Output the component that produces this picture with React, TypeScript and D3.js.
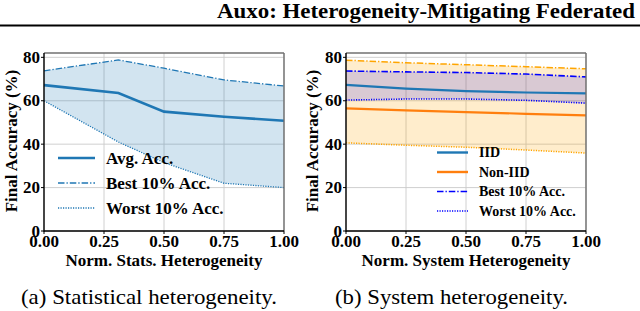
import React from "react";
import * as d3 from "d3";

// left panel: statistical heterogeneity
const statX = [0, 0.31, 0.5, 0.75, 1.0];
const statAvg = [67.2, 63.6, 55.0, 52.6, 50.8];
const statBest = [73.8, 78.8, 75.0, 69.6, 66.8];
const statWorst = [60.0, 41.0, 31.5, 22.0, 20.0];

// right panel: system heterogeneity
const sysX = [0, 0.25, 0.5, 0.75, 1.0];
const iidAvg = [67.3, 65.6, 64.4, 63.8, 63.4];
const iidBest = [73.7, 73.3, 73.0, 72.3, 71.0];
const iidWorst = [60.3, 60.8, 60.8, 60.2, 58.9];
const nonIidAvg = [56.5, 55.6, 54.8, 54.0, 53.3];
const nonIidBest = [78.7, 77.5, 76.6, 75.7, 74.7];
const nonIidWorst = [40.6, 39.5, 38.6, 37.3, 35.9];

const xTicks = [0, 0.25, 0.5, 0.75, 1.0];
const yTicks = [0, 20, 40, 60, 80];

const SERIF = "Liberation Serif";
const TAB_BLUE = "#1f77b4";
const TAB_ORANGE = "#ff7f0e";
const DASHDOT = "6.5,2,1.3,2";
const DOTTED = "1.2,1.3";

type Band = { lo: number[]; hi: number[]; fill: string; opacity: number };
type Series = { y: number[]; color: string; width: number; dash?: string };
type LegendItem = { label: string; color: string; width: number; dash?: string };

const bold = (size: number) => ({ fontFamily: SERIF, fontWeight: 700, fontSize: size });

const Panel = (props: {
  left: number;
  right: number;
  xs: number[];
  bands: Band[];
  series: Series[];
  legend: LegendItem[];
  legendX: number;
  legendY: number;
  legendStep: number;
  legendFont: number;
  legendLen: number;
  xLabel: string;
  yLabelX: number;
  caption: string;
  captionX: number;
  captionW: number;
}) => {
  const top = 53;
  const bottom = 231;
  const x = d3.scaleLinear().domain([0, 1]).range([props.left, props.right]);
  const y = d3.scaleLinear().domain([0, 82]).range([bottom, top]);
  const line = d3
    .line<number>()
    .x((_, i) => x(props.xs[i]))
    .y((d) => y(d));
  const area = (lo: number[], hi: number[]) =>
    d3
      .area<number>()
      .x((_, i) => x(props.xs[i]))
      .y0((_, i) => y(lo[i]))
      .y1((d) => y(d))(hi);

  return (
    <g>
      {/* grid */}
      {xTicks.map((t) => (
        <line key={"gx" + t} x1={x(t)} x2={x(t)} y1={top} y2={bottom} stroke="#cbcbcb" strokeWidth={0.9} />
      ))}
      {yTicks.map((t) => (
        <line key={"gy" + t} x1={props.left} x2={props.right} y1={y(t)} y2={y(t)} stroke="#cbcbcb" strokeWidth={0.9} />
      ))}
      {props.bands.map((b, i) => (
        <path key={"b" + i} d={area(b.lo, b.hi) || ""} fill={b.fill} fillOpacity={b.opacity} />
      ))}
      {props.series.map((s, i) => (
        <path
          key={"s" + i}
          d={line(s.y) || ""}
          fill="none"
          stroke={s.color}
          strokeWidth={s.width}
          strokeDasharray={s.dash}
        />
      ))}
      {/* frame */}
      <line x1={props.left} x2={props.right} y1={top} y2={top} stroke="#707070" strokeWidth={1.4} />
      <line x1={props.right} x2={props.right} y1={top} y2={bottom} stroke="#707070" strokeWidth={1.4} />
      <line x1={props.left} x2={props.left} y1={top} y2={bottom + 0.7} stroke="#000" strokeWidth={1.4} />
      <line x1={props.left} x2={props.right} y1={bottom} y2={bottom} stroke="#000" strokeWidth={1.4} />
      {/* ticks */}
      {xTicks.map((t) => (
        <g key={"xt" + t}>
          <line x1={x(t)} x2={x(t)} y1={bottom} y2={bottom + 3} stroke="#000" strokeWidth={1} />
          <text x={x(t)} y={247} textAnchor="middle" style={bold(17)}>
            {t.toFixed(2)}
          </text>
        </g>
      ))}
      {yTicks.map((t) => (
        <g key={"yt" + t}>
          <line x1={props.left - 3} x2={props.left} y1={y(t)} y2={y(t)} stroke="#000" strokeWidth={1} />
          <text x={props.left - 4} y={y(t) + 5.5} textAnchor="end" style={bold(17)}>
            {t}
          </text>
        </g>
      ))}
      {/* legend */}
      {props.legend.map((l, i) => {
        const ly = props.legendY + i * props.legendStep;
        return (
          <g key={"l" + i}>
            <line
              x1={props.legendX}
              x2={props.legendX + props.legendLen}
              y1={ly}
              y2={ly}
              stroke={l.color}
              strokeWidth={l.width}
              strokeDasharray={l.dash}
            />
            <text
              x={props.legendX + props.legendLen + 11}
              y={ly + props.legendFont * 0.33}
              style={bold(props.legendFont)}
            >
              {l.label}
            </text>
          </g>
        );
      })}
      <text x={(props.left + props.right) / 2} y={266} textAnchor="middle" style={bold(17)}>
        {props.xLabel}
      </text>
      <text
        transform={`translate(${props.yLabelX},${(top + bottom) / 2 - 1}) rotate(-90)`}
        textAnchor="middle"
        style={bold(17)}
      >
        Final Accuracy (%)
      </text>
      <text
        x={props.captionX}
        y={304}
        style={{ fontFamily: SERIF, fontSize: 22 }}
        textLength={props.captionW}
        lengthAdjust="spacingAndGlyphs"
      >
        {props.caption}
      </text>
    </g>
  );
};

const App = () => {
  return (
    <svg width={640} height={311} style={{ position: "absolute", left: 0, top: 0, background: "#fff" }}>
      <rect width={640} height={311} fill="#fff" />
      <text x={217} y={18} style={bold(22)} textLength={418} lengthAdjust="spacingAndGlyphs">
        Auxo: Heterogeneity-Mitigating Federated
      </text>
      <line x1={0} x2={640} y1={25.5} y2={25.5} stroke="#000" strokeWidth={2} />
      <Panel
        left={44}
        right={284}
        xs={statX}
        bands={[{ lo: statWorst, hi: statBest, fill: TAB_BLUE, opacity: 0.2 }]}
        series={[
          { y: statAvg, color: TAB_BLUE, width: 2.6 },
          { y: statBest, color: TAB_BLUE, width: 1.3, dash: DASHDOT },
          { y: statWorst, color: TAB_BLUE, width: 1.3, dash: DOTTED },
        ]}
        legend={[
          { label: "Avg. Acc.", color: TAB_BLUE, width: 2.6 },
          { label: "Best 10% Acc.", color: TAB_BLUE, width: 1.3, dash: DASHDOT },
          { label: "Worst 10% Acc.", color: TAB_BLUE, width: 1.3, dash: DOTTED },
        ]}
        legendX={58}
        legendY={158}
        legendStep={25}
        legendFont={17}
        legendLen={37}
        xLabel="Norm. Stats. Heterogeneity"
        yLabelX={17}
        caption="(a) Statistical heterogeneity."
        captionX={21}
        captionW={256}
      />
      <Panel
        left={346}
        right={586}
        xs={sysX}
        bands={[
          { lo: nonIidWorst, hi: nonIidBest, fill: "#ffa500", opacity: 0.2 },
          { lo: iidWorst, hi: iidBest, fill: "#0000ff", opacity: 0.15 },
        ]}
        series={[
          { y: nonIidBest, color: "#ffa500", width: 1.5, dash: DASHDOT },
          { y: nonIidWorst, color: "#ffa500", width: 1.5, dash: DOTTED },
          { y: iidBest, color: "#0000ff", width: 1.6, dash: DASHDOT },
          { y: iidWorst, color: "#0000ff", width: 1.6, dash: DOTTED },
          { y: iidAvg, color: TAB_BLUE, width: 2.2 },
          { y: nonIidAvg, color: TAB_ORANGE, width: 2.2 },
        ]}
        legend={[
          { label: "IID", color: TAB_BLUE, width: 2.4 },
          { label: "Non-IID", color: TAB_ORANGE, width: 2.4 },
          { label: "Best 10% Acc.", color: "#0000ff", width: 1.6, dash: DASHDOT },
          { label: "Worst 10% Acc.", color: "#0000ff", width: 1.6, dash: DOTTED },
        ]}
        legendX={437}
        legendY={152.5}
        legendStep={19.5}
        legendFont={14}
        legendLen={31}
        xLabel="Norm. System Heterogeneity"
        yLabelX={318}
        caption="(b) System heterogeneity."
        captionX={335}
        captionW={233}
      />
    </svg>
  );
};

export default App;
